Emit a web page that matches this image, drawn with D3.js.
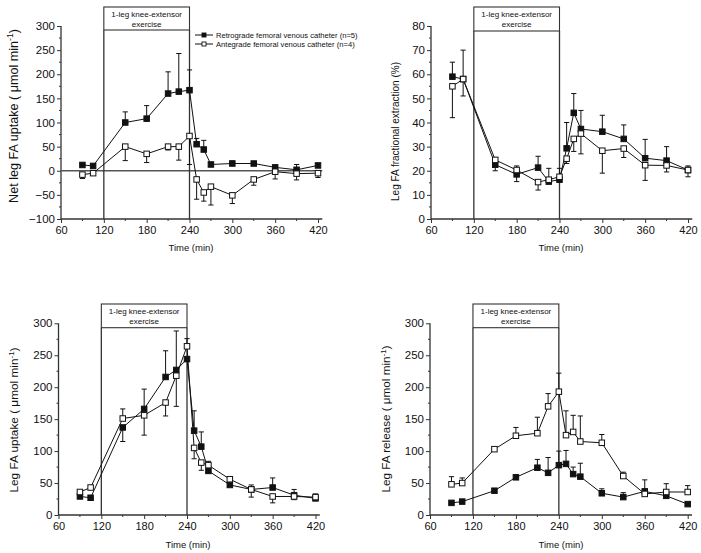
<!DOCTYPE html>
<html><head><meta charset="utf-8">
<script src="https://cdn.jsdelivr.net/npm/d3@7"></script>
<style>
body{margin:0;background:#fff}
svg{display:block}
text{font-family:"Liberation Sans",Arial,Helvetica,sans-serif;fill:#111}
</style>
</head><body>
<svg id="chart" width="701" height="553"></svg>
<script>
// ---------------- DATA ----------------
const times = [90,105,150,180,210,225,240,250,260,270,300,330,360,390,420];
const xTickValues = [60,120,180,240,300,360,420];
const exerciseStart = 120, exerciseEnd = 240;
const exerciseLabel = ["1-leg knee-extensor","exercise"];
const seriesNames = ["Retrograde femoral venous catheter (n=5)","Antegrade femoral venous catheter (n=4)"];

// Panel A: Net leg FA uptake (signed error: + bar up, - bar down)
const netUptakeRetro    = [12,10,100,108,160,164,167,55,44,13,15,15,7,2,11];
const netUptakeRetroErr = [3,2,22,27,45,79,42,12,19,3,5,2,2,11,3];
const netUptakeAnte     = [-8,-5,50,35,50,50,72,-18,-45,-33,-51,-18,-2,-6,-5];
const netUptakeAnteErr  = [-8,-3,-29,-18,-7,-28,-59,-41,-18,-38,-17,-12,-15,-13,-9];

// Panel B: Leg FA fractional extraction (%)
const extractionRetro    = [59,58,22.5,18.5,21.3,15.5,16.3,29.3,44,37.3,36.2,33.2,25.2,24.2,20.3];
const extractionRetroErr = [6,12,2,3.5,4.7,5.5,4.7,10.7,8,7.7,6.8,5.8,7.8,5.8,1.7];
const extractionAnte     = [55,58,24.5,20.3,15.3,16.3,17.5,25,33.2,35.4,28.3,29.2,22.3,22.2,20.3];
const extractionAnteErr  = [-13,-7,-4.5,-4.8,-3.3,-1,-1,-2,-5.2,-8.4,-9.3,-3.7,-6.3,-2.7,-2.8];

// Panel C: Leg FA uptake
const uptakeRetro    = [29,27,137,166,216,227,244,132,107,69,47,40,43,31,26];
const uptakeRetroErr = [-2,-2,-22,31,41,61,-3,31,23,-3,-2,7,15,9,-2];
const uptakeAnte     = [36,43,151,156,176,218,264,105,82,78,56,40,29,29,28];
const uptakeAnteErr  = [2,2,15,-31,-21,-48,12,-17,-12,6,2,-12,-10,-5,5];

// Panel D: Leg FA release
const releaseRetro    = [19,21,38,59,74,66,78,80,64,60,34,28,37,30,17];
const releaseRetroErr = [0,0,0,0,13,24,22,21,11,21,7,7,18,0,0];
const releaseAnte     = [48,50,103,124,128,170,193,125,130,115,113,61,33,36,36];
const releaseAnteErr  = [12,8,2,13,25,20,29,38,26,40,13,6,2,13,10];

// ---------------- LAYOUT ----------------
const svg = d3.select("#chart");
const panels = [
  {x0:61, xEnd:318, yTop:26, yBot:219, yDom:[-100,300], yStep:50,
   retro:netUptakeRetro, retroErr:netUptakeRetroErr, ante:netUptakeAnte, anteErr:netUptakeAnteErr,
   boxTop:7, boxBot:30, zero:true, legend:true,
   yTitle:["Net leg FA uptake ( μmol min","-1",")"], yTitleX:17.5, yTitleY:116, yTitleSize:12.6,
   xTitleX:191, xTitleY:251},
  {x0:431, xEnd:688, yTop:26, yBot:219, yDom:[0,80], yStep:10,
   retro:extractionRetro, retroErr:extractionRetroErr, ante:extractionAnte, anteErr:extractionAnteErr,
   boxTop:7, boxBot:31,
   yTitle:["Leg FA fractional extraction (%)"], yTitleX:398.5, yTitleY:131.5, yTitleSize:10,
   xTitleX:561, xTitleY:251},
  {x0:58.5, xEnd:315.5, yTop:323.3, yBot:515, yDom:[0,300], yStep:50,
   retro:uptakeRetro, retroErr:uptakeRetroErr, ante:uptakeAnte, anteErr:uptakeAnteErr,
   boxTop:304, boxBot:327.7,
   yTitle:["Leg FA uptake ( μmol min","-1",")"], yTitleX:18, yTitleY:420, yTitleSize:11.8,
   xTitleX:188, xTitleY:548},
  {x0:430, xEnd:687.7, yTop:323.3, yBot:515, yDom:[0,300], yStep:50,
   retro:releaseRetro, retroErr:releaseRetroErr, ante:releaseAnte, anteErr:releaseAnteErr,
   boxTop:304, boxBot:327.7,
   yTitle:["Leg FA release ( μmol min","-1",")"], yTitleX:390, yTitleY:419, yTitleSize:11.7,
   xTitleX:561, xTitleY:548}
];

const axisColor = "#333";
const mk = 5.5;   // marker side
const cap = 2.6;  // half cap width

panels.forEach(p => {
  const x = d3.scaleLinear().domain([60,420]).range([p.x0,p.xEnd]);
  const y = d3.scaleLinear().domain(p.yDom).range([p.yBot,p.yTop]);
  const g = svg.append("g");
  const xAxisEnd = x(426);

  // y axis
  const yTicks = d3.range(p.yDom[0], p.yDom[1]+0.001, p.yStep);
  const yMinor = d3.range(p.yDom[0]+p.yStep/2, p.yDom[1], p.yStep);
  const ya = g.append("g").attr("transform",`translate(${p.x0},0)`)
    .call(d3.axisLeft(y).tickValues(yTicks).tickSize(4).tickPadding(2).tickFormat(d3.format("d")));
  ya.select(".domain").remove();
  ya.selectAll(".tick line").attr("stroke",axisColor).attr("stroke-width",1);
  ya.selectAll(".tick text").attr("font-size",11.5).attr("fill","#111").attr("font-family","Liberation Sans, Arial, sans-serif");
  g.append("g").selectAll("line").data(yMinor).join("line")
    .attr("x1",p.x0-2).attr("x2",p.x0).attr("y1",d=>y(d)).attr("y2",d=>y(d))
    .attr("stroke",axisColor).attr("stroke-width",1);
  g.append("line").attr("x1",p.x0).attr("x2",p.x0).attr("y1",p.yTop).attr("y2",p.yBot)
    .attr("stroke",axisColor).attr("stroke-width",1.3);

  // x axis
  const xa = g.append("g").attr("transform",`translate(0,${p.yBot})`)
    .call(d3.axisBottom(x).tickValues(xTickValues).tickSize(4).tickPadding(3).tickFormat(d3.format("d")));
  xa.select(".domain").remove();
  xa.selectAll(".tick line").attr("stroke",axisColor).attr("stroke-width",1);
  xa.selectAll(".tick text").attr("font-size",11).attr("fill","#111").attr("font-family","Liberation Sans, Arial, sans-serif");
  const xMinor = d3.range(90, 420, 60);
  g.append("g").selectAll("line").data(xMinor).join("line")
    .attr("x1",d=>x(d)).attr("x2",d=>x(d)).attr("y1",p.yBot).attr("y2",p.yBot+2)
    .attr("stroke",axisColor).attr("stroke-width",1);
  g.append("line").attr("x1",p.x0).attr("x2",xAxisEnd).attr("y1",p.yBot).attr("y2",p.yBot)
    .attr("stroke",axisColor).attr("stroke-width",1.3);

  // zero line
  if (p.zero) {
    g.append("line").attr("x1",p.x0).attr("x2",xAxisEnd).attr("y1",y(0)).attr("y2",y(0))
      .attr("stroke","#555").attr("stroke-width",1.3);
  }

  // exercise box and lines
  [exerciseStart, exerciseEnd].forEach(t => {
    g.append("line").attr("x1",x(t)).attr("x2",x(t)).attr("y1",p.boxBot).attr("y2",p.yBot)
      .attr("stroke","#333").attr("stroke-width",1.3);
  });
  g.append("rect").attr("x",x(exerciseStart)).attr("y",p.boxTop)
    .attr("width",x(exerciseEnd)-x(exerciseStart)).attr("height",p.boxBot-p.boxTop)
    .attr("fill","#fff").attr("stroke","#333").attr("stroke-width",1.1);
  const bx = (x(exerciseStart)+x(exerciseEnd))/2;
  g.append("text").attr("x",bx).attr("y",p.boxTop+10).attr("text-anchor","middle")
    .attr("font-size",8).text(exerciseLabel[0]);
  g.append("text").attr("x",bx).attr("y",p.boxTop+20).attr("text-anchor","middle")
    .attr("font-size",8).text(exerciseLabel[1]);

  // titles
  const yt = g.append("text").attr("transform",`translate(${p.yTitleX},${p.yTitleY}) rotate(-90)`)
    .attr("text-anchor","middle").attr("font-size",p.yTitleSize);
  yt.append("tspan").text(p.yTitle[0]);
  if (p.yTitle.length > 1) {
    yt.append("tspan").attr("dy",-p.yTitleSize*0.38).attr("font-size",p.yTitleSize*0.68).text(p.yTitle[1]);
    yt.append("tspan").attr("dy",p.yTitleSize*0.38).text(p.yTitle[2]);
  }
  g.append("text").attr("x",p.xTitleX).attr("y",p.xTitleY).attr("text-anchor","middle")
    .attr("font-size",9.5).text("Time (min)");

  // series
  const line = d3.line().x((d,i)=>x(times[i])).y(d=>y(d));
  const series = [
    {vals:p.retro, err:p.retroErr, fill:"#111"},
    {vals:p.ante, err:p.anteErr, fill:"#fff"}
  ];
  series.forEach(s => {
    g.append("path").datum(s.vals).attr("d",line).attr("fill","none")
      .attr("stroke","#111").attr("stroke-width",1);
  });
  series.forEach(s => {
    const eg = g.append("g");
    s.vals.forEach((v,i) => {
      const e = s.err[i];
      if (!e) return;
      const xx = x(times[i]);
      eg.append("line").attr("x1",xx).attr("x2",xx).attr("y1",y(v)).attr("y2",y(v+e))
        .attr("stroke","#111").attr("stroke-width",1);
      eg.append("line").attr("x1",xx-cap).attr("x2",xx+cap).attr("y1",y(v+e)).attr("y2",y(v+e))
        .attr("stroke","#111").attr("stroke-width",1);
    });
  });
  series.forEach(s => {
    g.append("g").selectAll("rect").data(s.vals).join("rect")
      .attr("x",(d,i)=>x(times[i])-mk/2).attr("y",d=>y(d)-mk/2)
      .attr("width",mk).attr("height",mk)
      .attr("fill",s.fill).attr("stroke","#111").attr("stroke-width",1);
  });

  // legend
  if (p.legend) {
    const lg = g.append("g");
    [0,1].forEach(k => {
      const ly = 35 + k*9;
      lg.append("line").attr("x1",195).attr("x2",213).attr("y1",ly).attr("y2",ly)
        .attr("stroke","#111").attr("stroke-width",1);
      lg.append("rect").attr("x",204-2).attr("y",ly-2).attr("width",4).attr("height",4)
        .attr("fill",k===0?"#111":"#fff").attr("stroke","#111").attr("stroke-width",0.9);
      lg.append("text").attr("x",216).attr("y",ly+2.6).attr("font-size",7.6).text(seriesNames[k]);
    });
  }
});
</script>
</body></html>
